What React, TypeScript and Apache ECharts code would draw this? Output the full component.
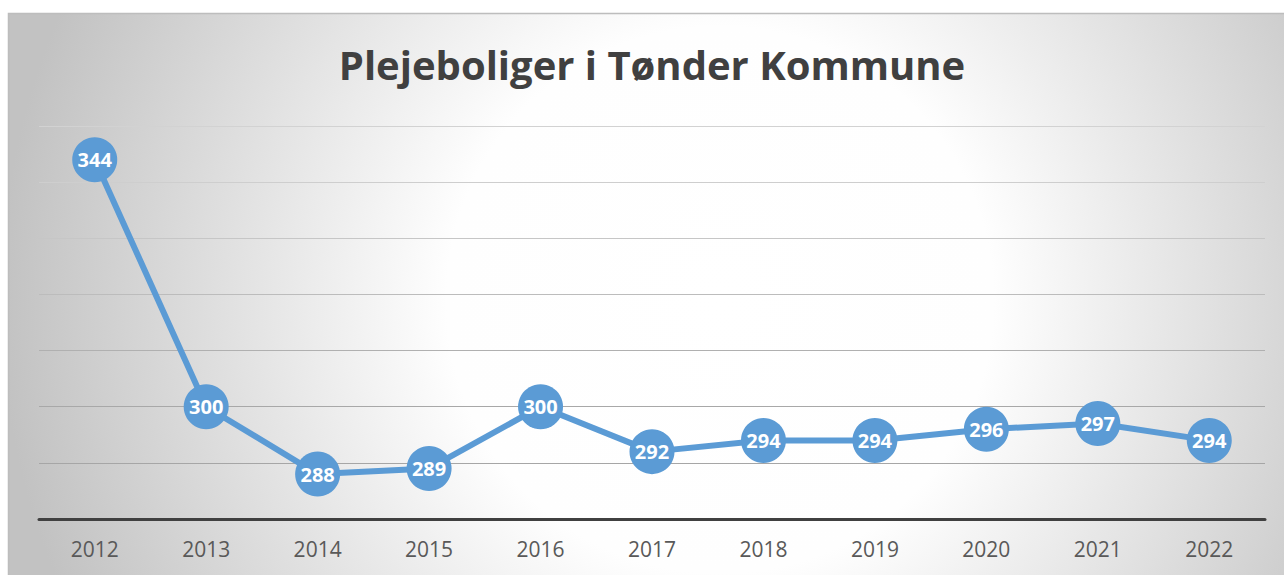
import React, { useEffect, useRef } from "react";
import * as echarts from "echarts";

const years = ["2012", "2013", "2014", "2015", "2016", "2017", "2018", "2019", "2020", "2021", "2022"];
const values = [344, 300, 288, 289, 300, 292, 294, 294, 296, 297, 294];
const titleText = "Plejeboliger i Tønder Kommune";
const yMin = 280;
const yMax = 350;
const yStep = 10;

export default function App() {
  const ref = useRef<HTMLDivElement>(null);
  useEffect(() => {
    document.body.style.margin = "0";
    const chart = echarts.init(ref.current!, null, { renderer: "svg" });
    chart.setOption({
      animation: false,
      backgroundColor: "#ffffff",
      graphic: [
        {
          type: "rect",
          z: -10,
          silent: true,
          shape: { x: 8.5, y: 13.5, width: 1290, height: 580 },
          style: {
            fill: {
              type: "radial",
              x: 720,
              y: 300,
              r: 720,
              global: true,
              colorStops: [
                { offset: 0, color: "#ffffff" },
                { offset: 0.38, color: "#fefefe" },
                { offset: 1, color: "#c2c2c2" },
              ],
            },
            stroke: "#bdbdbd",
            lineWidth: 1.5,
          },
        },
      ],
      title: {
        text: titleText,
        left: 647,
        top: 39,
        textAlign: "center",
        textStyle: {
          fontFamily: "Open Sans",
          fontWeight: "bold",
          fontSize: 40,
          color: "#404040",
        },
      },
      grid: { left: 39, right: 19, top: 126, bottom: 56, containLabel: false },
      xAxis: {
        type: "category",
        data: years,
        boundaryGap: true,
        axisLine: { show: true, lineStyle: { color: "#404040", width: 3 } },
        axisTick: { show: false },
        axisLabel: {
          fontFamily: "Open Sans",
          fontSize: 21,
          color: "#595959",
          margin: 19,
        },
        splitLine: { show: false },
      },
      yAxis: {
        type: "value",
        min: yMin,
        max: yMax,
        interval: yStep,
        axisLine: { show: false },
        axisTick: { show: false },
        axisLabel: { show: false },
        splitLine: {
          show: true,
          lineStyle: {
            color: ["#a6a6a6", "#a6a6a6", "#a8a8a8", "#b0b0b0", "#bcbcbc", "#c6c6c6", "#cecece", "#d2d2d2"],
            width: 1,
          },
        },
      },
      series: [
        {
          type: "line",
          data: values,
          symbol: "circle",
          symbolSize: 45,
          lineStyle: { color: "#5b9bd5", width: 6 },
          itemStyle: { color: "#5b9bd5" },
          label: {
            show: true,
            position: "inside",
            color: "#ffffff",
            fontFamily: "Open Sans",
            fontWeight: "bold",
            fontSize: 20,
          },
        },
      ],
    });
    return () => chart.dispose();
  }, []);
  return <div ref={ref} style={{ width: 1284, height: 575 }} />;
}
